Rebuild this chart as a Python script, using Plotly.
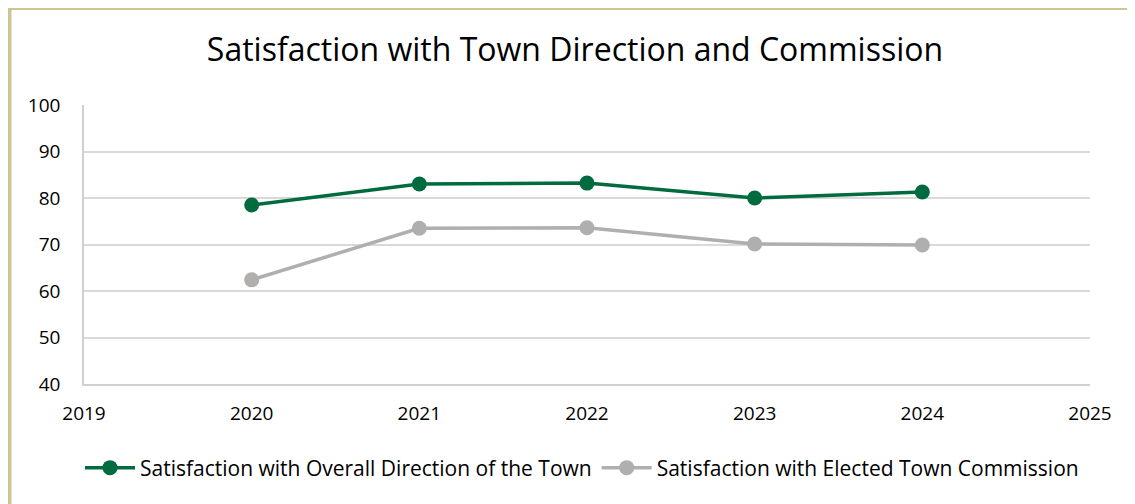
import plotly.graph_objects as go

years = [2020, 2021, 2022, 2023, 2024]
overall_direction = [78.5, 83.0, 83.2, 80.0, 81.3]
town_commission = [62.4, 73.5, 73.6, 70.1, 69.9]

# the page puts the figure 8px in from the corner, so the figure is 8px smaller
W, H = 1127, 496
L, R, T, B = 76, 45, 97, 120

def px_x(p):
    return (p - L) / (W - L - R)

def px_y(p):
    return 1 - (p - T) / (H - T - B)

fig = go.Figure()
fig.add_trace(go.Scatter(
    name='Satisfaction with Overall Direction of the Town',
    x=years, y=overall_direction, mode='lines+markers',
    line=dict(color='#006B3F', width=3.5),
    marker=dict(color='#006B3F', size=15)
))
fig.add_trace(go.Scatter(
    name='Satisfaction with Elected Town Commission',
    x=years, y=town_commission, mode='lines+markers',
    line=dict(color='#B1AEAE', width=3.5),
    marker=dict(color='#B1AEAE', size=15)
))

fig.update_layout(
    width=W, height=H,
    margin=dict(l=L, r=R, t=T, b=B),
    paper_bgcolor='white', plot_bgcolor='white',
    font=dict(family='Open Sans', size=19, color='#000000'),
    title=dict(text='Satisfaction with Town Direction and Commission',
               font=dict(family='Open Sans', size=32, color='#000000'),
               x=567 / W, xanchor='center', y=1 - 42 / H, yanchor='middle'),
    legend=dict(orientation='h', x=px_x(574), xanchor='center', y=px_y(460), yanchor='middle',
                font=dict(size=21), itemwidth=50),
    showlegend=True,
)
fig.update_xaxes(range=[2019, 2025], dtick=1, showgrid=False, zeroline=False,
                 showline=True, linecolor='#D0D0D0', linewidth=1.5,
                 ticks='', ticklabelstandoff=11)
fig.update_yaxes(range=[40, 100], dtick=10, showgrid=True, gridcolor='#D9D9D9', gridwidth=1.5,
                 zeroline=False, showline=True, linecolor='#D0D0D0', linewidth=1.5,
                 ticks='', ticklabelstandoff=18)

# tan frame of the surrounding text box
fig.add_shape(type='line', xref='paper', yref='paper',
              x0=px_x(1.5), x1=px_x(W + 5), y0=px_y(0), y1=px_y(0),
              line=dict(color='#CFC594', width=4))
fig.add_shape(type='line', xref='paper', yref='paper',
              x0=px_x(1.5), x1=px_x(1.5), y0=px_y(-2), y1=px_y(H + 5),
              line=dict(color='#CFC594', width=4))

fig.write_html("out.html")
